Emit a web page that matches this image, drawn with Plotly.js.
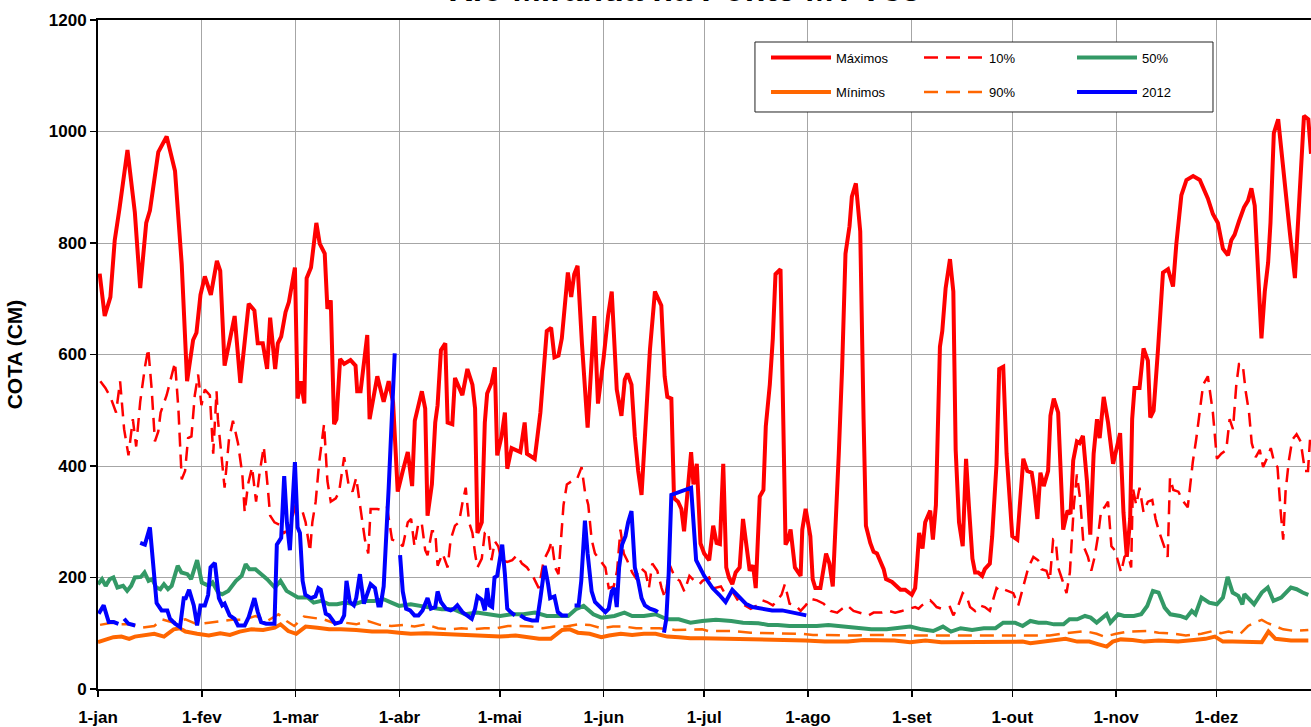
<!DOCTYPE html>
<html>
<head>
<meta charset="utf-8">
<script src="https://cdn.plot.ly/plotly-3.0.1.min.js"></script>
<style>
  html, body { margin: 0; padding: 0; background: #fff; }
  #chart { width: 1311px; height: 727px; }
</style>
</head>
<body>
<div id="chart"></div>
<script>
// Month labels (x axis is day of year, 0 = 1-jan)
const monthStarts = [0, 31, 59, 90, 120, 151, 181, 212, 243, 273, 304, 334];
const monthLabels = ['1-jan', '1-fev', '1-mar', '1-abr', '1-mai', '1-jun', '1-jul', '1-ago', '1-set', '1-out', '1-nov', '1-dez'];

// Máximos (cm)
const maxDays = [0.5,2,3.7,5,6.4,8.8,11,12.6,14.4,15.5,18,20.5,23,25,26.6,28.4,29.4,30.6,31.9,33.7,35.5,36.5,37.8,40.8,42.5,45,46.7,47.7,49.2,50.5,51.4,52.9,53.7,54.7,56,57,58.8,59.6,60.6,61.6,62.3,63.6,65.2,66.2,67.7,68.5,69.5,70.5,71.2,72.3,73.5,75.4,76.9,77.4,78.4,80.4,81.1,83.4,85.3,86.8,88.1,89.5,91,92.5,93.8,94.6,96.7,97.7,98.4,99.7,100.7,101.4,102.4,103.7,104.4,105.8,106.6,108.8,110.3,111.8,112.6,113.3,114.6,115.5,116.2,117.5,118.5,119.2,120.5,121.5,122.2,123.5,126.1,127.4,128.1,130.4,132.1,134,135.3,136.3,137.5,138.5,140.3,141.3,142.2,143.2,144.5,146.2,148.2,149.3,151,152.3,153.4,154.9,156.3,157.3,158.1,159.3,160.3,161.3,162.3,163.3,164.8,166.3,168.2,169.2,170,171.2,172,173.2,174.2,175,177.1,177.8,178.8,179.9,181,182.5,183.7,184.7,185.7,186.7,187.6,188.4,189.4,190.4,191.6,192.6,193.4,194.6,195.6,196.4,197.6,198.7,199.4,200.6,201.5,202.3,203.8,204.5,205.3,206.1,206.8,208.1,209.8,210.3,211.3,212.7,213.4,214.2,215.7,217.4,218.4,219.4,220.2,221.2,222.2,223.2,224.4,225.1,226.3,227.6,228.6,229.3,230.6,231.6,232.6,234.6,235.3,237.1,239.6,241,243,244,244.5,245.2,246.2,247,248.5,249.3,250.2,251.4,252.1,253.1,254.4,255.4,256.1,257.1,258.2,259.2,260.1,261.1,261.9,262.8,264,264.8,266.3,267,268.3,269.1,270.3,271.3,273,274.5,276.3,277.5,278.8,279.5,280.5,281.4,282.4,283.7,284.4,285.4,286.7,287.4,288.2,289.5,290.4,291.2,292.3,293.1,294.1,295.3,296.3,297.3,298.3,299.1,300.3,301.6,303.1,304.3,305.2,306.2,307.2,308.2,308.8,309.5,311,312.2,313.5,314.2,315.2,316.5,318,319.5,321,322,323.5,325,327,329,330.2,331.4,332.9,334.4,335.9,337.4,338.4,339.4,340.7,342.2,343.4,344.4,345.4,346.4,347.4,348.4,349.4,350.1,351.1,352.4,353.7,354.4,355.9,357.4,358.4,359.4,360.1,361.4,362.2];
const maxVals = [745,669,703,805,861,967,855,719,836,858,963,991,929,762,552,626,639,707,740,707,768,750,580,669,549,691,679,620,620,574,666,574,620,632,676,694,756,521,552,512,737,756,836,799,781,682,697,475,484,592,583,590,580,534,534,635,484,561,515,552,515,354,391,425,364,481,534,503,311,367,478,509,608,620,478,475,558,527,574,546,503,280,299,478,530,549,577,419,453,496,395,432,425,478,422,413,496,642,648,595,598,629,747,703,744,759,620,469,669,512,595,669,713,537,490,555,566,546,453,391,348,453,608,713,688,561,524,521,342,336,323,283,425,367,404,261,243,231,293,262,260,404,218,200,188,209,218,305,262,212,222,181,345,357,471,546,629,744,753,484,259,268,286,218,203,286,323,274,197,181,181,243,225,184,280,422,577,781,830,883,907,821,484,293,262,246,243,215,197,192,178,178,169,181,218,280,252,299,320,268,330,614,642,719,771,713,429,299,256,413,323,234,209,209,203,215,225,274,404,574,578,422,274,268,413,391,388,361,305,388,364,391,490,521,496,379,286,320,314,410,444,441,454,373,277,422,484,450,524,478,404,435,459,317,237,305,484,540,540,611,589,487,499,608,747,753,722,799,886,913,920,913,895,880,852,836,790,778,805,815,839,864,876,898,867,731,629,713,765,836,997,1022,947,892,818,737,836,947,1028,1022,960];

// 10% (cm)
const p10Days = [0.7,2.2,3.7,5.4,6.6,7.8,9.1,10.4,11.4,12.6,14,15,16,17,18,18.7,20.5,21.7,23,24,25,26,26.9,27.9,28.9,29.9,30.9,31.9,33.4,34.4,35.4,35.8,36.8,37.8,39.1,40.3,41.8,43.1,43.8,44.8,46,47.2,48.2,49.5,50.7,51.4,52.7,54.7,55.6,57.1,59,61,62,63.3,64,65,66,67.5,68.5,69.5,71,72,73.5,74.8,76,77.1,78.4,79.7,80.7,81.4,83.4,85.3,86.3,87.8,89.3,90,91,92.5,93.5,94.5,95.7,96.7,97.7,98.4,99.7,100.7,101.4,102.9,104.4,105.3,106.6,107.8,108.8,109.8,110.8,111.8,112.6,113.3,114.6,115.5,116.5,117.5,118.5,119.5,120.5,122.2,123.7,125.1,126.6,128.1,129.8,131.6,133.1,134.6,135.5,136.5,137.5,138.2,139,140,141.5,143,144.4,145.4,146.4,147.4,148.4,149.9,151.5,152.5,154,155,156,157,158,159.5,160.5,162,163.5,164.5,165.5,167,168.3,169.3,170.8,172.3,173.7,175.1,176.6,178.1,179.6,180.5,182.5,184,186,187.4,189.4,191.4,193.4,194.9,196.9,198.4,199.8,201.5,202.8,204.1,205.1,206.5,208.3,209.8,211.3,212.7,214.7,216.7,218.7,220.7,222.2,223.7,225.6,227.1,228.6,230.1,231.6,234.1,236.1,238,240,242.5,244,245,246,247.5,248.5,249.5,250.4,251.9,254.4,255.4,256.9,258.2,259.4,260.4,261.9,263.3,264.8,266.3,267.6,268.3,269.8,270.8,273.3,274.8,276.3,277.8,279.3,280.7,281.7,283.2,284.2,285.2,286,286.7,287.7,289.2,290.2,290.7,291.4,292.3,293.3,294.3,295.6,296.6,297.6,298.6,299.6,300.6,301.6,302.6,303.6,304.5,305.5,306.5,307.5,308.5,309,310,311,312.2,313.5,314.8,315.8,316.8,318,319.4,320.1,321.1,322.6,324.1,325.4,326.9,327.9,328.9,330,331.4,332.9,334.1,335.4,336.9,337.9,338.9,339.9,340.7,341.8,342.7,343.7,344.5,345.7,346.9,347.9,349.2,350.2,351.2,352.2,353.2,353.9,354.6,355.6,356.6,357.9,359.1,360.4,361.3,361.9];
const p10Vals = [552,540,524,496,552,466,419,484,435,515,577,611,540,444,462,496,527,558,586,503,376,391,450,453,527,564,509,537,527,422,534,484,422,361,447,481,441,385,317,367,398,336,385,435,361,311,299,293,280,286,330,320,299,246,299,336,404,475,373,336,342,354,416,367,354,379,323,268,243,323,323,320,326,268,265,262,256,299,305,256,299,296,249,240,283,283,221,243,218,268,293,299,333,361,299,280,243,218,234,280,283,231,265,256,231,228,231,240,225,218,203,181,231,249,265,218,206,271,330,367,373,376,398,354,330,268,243,231,218,181,184,212,286,243,231,209,200,218,209,181,225,212,181,163,221,200,194,175,203,194,188,194,200,181,184,169,175,156,150,144,150,159,156,150,159,169,188,153,150,140,150,162,159,153,140,137,144,150,140,137,135,132,137,137,140,137,140,144,147,144,150,156,159,153,147,144,147,132,150,172,166,147,140,150,147,140,169,181,175,178,172,150,184,218,237,231,215,212,194,268,265,218,200,172,209,268,330,385,339,256,237,212,237,274,323,326,336,256,249,231,209,237,243,218,361,330,361,317,336,339,305,283,262,237,379,357,354,336,326,407,447,496,546,561,496,413,422,429,484,466,546,583,583,534,496,441,416,429,398,416,432,407,398,314,268,354,410,447,457,444,391,391,447];

// 50% (cm)
const p50Days = [0,1.2,2.3,3.5,4.6,5.8,7.5,8.7,9.9,11,12.8,13.9,15.1,16.2,17.4,18.6,19.7,20.9,22,23.8,24.9,26.7,27.8,29.6,31,33.1,34.2,35.9,37.1,38.9,41.2,42.9,44.1,45.2,47,48.7,50.5,52.8,54.5,56.3,58,59.7,62.6,64.4,66.7,69,71.4,73.7,76.6,79.5,82.4,85.3,87.6,89.9,93.4,95.7,99.2,102.7,106.1,109.6,113.1,116.6,120.1,123.6,127,130.5,134,137.5,140.4,142.7,145,147.9,150.3,154.2,157.2,159.5,163,166.5,169.9,173.4,176.9,180.4,184.5,189.1,192.6,197.2,200.1,203,206.5,211.2,214.6,218.1,221.6,226.2,230.9,235.5,239,242.5,246,249.4,252.3,254.7,257.6,261,264.5,268,270.3,273.8,276.1,278.4,280.8,283.1,285.4,288.3,290.1,292.4,294.7,296.4,298.2,300,301.2,302.3,304.6,306.4,309.3,311.5,313.3,315,316.7,318.5,320.2,323.1,324.9,326.6,327.7,329.5,331.8,334.1,335.9,337.3,338.8,340.5,341.7,342.3,345.2,347.5,349.3,351,353.3,356.2,357.9,359.7,361.4];
const p50Vals = [188,197,185,197,200,182,185,176,185,200,201,209,194,197,182,179,188,179,185,221,209,206,197,231,191,185,191,173,170,176,194,203,224,215,215,206,197,182,194,176,170,164,164,155,158,152,152,155,152,158,158,161,155,149,152,149,146,143,143,134,137,134,131,134,134,137,131,131,131,143,149,134,128,131,137,131,131,134,125,125,119,122,124,122,119,118,115,115,113,113,113,115,113,109,107,107,109,112,107,104,112,103,109,106,109,109,119,119,113,122,119,119,116,116,125,125,131,128,119,128,134,119,134,131,131,134,149,176,173,146,134,131,127,140,134,164,155,152,164,201,173,167,152,170,152,173,182,158,164,182,179,173,169];

// Mínimos (cm)
const minDays = [0,2.3,4.6,7,9.3,11,13.9,16.8,19.7,22.6,24.4,26.1,29.6,33.1,36.5,39.4,42.3,45.8,49.3,52.8,54.5,56.8,59.2,62,65.5,69,72.5,77.1,81.8,86.4,89.9,93.4,98,101.5,106.1,110.8,115.4,120.1,124.7,128.2,131.7,135.2,136.9,138.6,140.9,143.3,146.8,150.3,152.6,156.1,159.5,163,166.5,170,173.5,176.9,180.4,191.4,200.7,211.2,217,223.9,228.6,237.8,242.5,247.1,251.8,261,270.3,276.1,278.4,281.9,285.4,288.9,292.4,296,298.3,301.2,303,305.4,308.9,312.4,316.7,322.5,327.2,330.7,333.5,335.9,338.8,342.3,347.5,349.5,351.6,356.2,361.4];
const minVals = [84,88,93,94,90,94,96,99,94,107,109,103,99,96,100,97,103,107,106,110,116,104,99,112,110,107,107,106,103,103,101,99,100,99,99,97,96,94,96,93,90,90,99,106,107,101,99,93,96,99,97,99,99,94,93,91,91,90,88,87,85,85,88,87,84,87,84,84,84,85,82,85,87,90,85,85,81,76,85,89,88,85,87,85,88,90,94,85,85,84,84,103,90,87,87];

// 90% (cm)
const p90Days = [0.6,4.1,6.4,9.9,13.3,16.8,19.1,22.6,26.1,29.6,33.1,36.5,40,43.5,47,50.5,53.9,56.3,58.6,61.5,64.4,67.3,70.2,73.7,77.1,80.6,84.1,87.6,91.1,94.5,98,101.5,105,108.5,111.9,115.4,118.9,122.4,125.9,129.4,132.8,136.3,139.8,143.3,146.8,150.3,153.8,157.2,160.7,164.2,167.6,172.3,176.9,180.4,182.2,189.1,194.9,201.9,210,213.5,219.3,226.2,230.9,237.8,244.8,249.4,255.2,261,268,272.6,278.4,284.2,287.7,290,294.7,298.2,300.5,304,307.4,313.2,316.7,321.4,324.8,329.5,333,335.3,337.6,341.1,343.4,345.2,347.5,349.3,351.6,353.9,357.4,361.4];
const p90Vals = [115,119,116,116,110,113,125,119,125,116,119,122,124,124,131,122,134,122,113,130,128,125,119,119,116,122,115,113,115,112,116,109,107,109,107,109,109,113,113,112,109,112,112,116,115,109,112,112,109,109,109,106,107,107,104,104,101,100,99,97,96,96,97,96,96,96,96,96,96,96,96,96,99,101,104,99,94,99,103,104,101,99,96,99,104,100,103,99,113,119,124,118,113,107,104,106];

// 2012 (cm), null = sem leitura
const y2012Days = [0.2,1.7,3.2,4.7,6.1,6.9,7.8,9.1,11.1,11.8,12.6,14,15.5,16.7,17.5,19,20.7,21.5,23,24.5,25.6,26.2,27.2,28.6,29.6,30.6,31.9,32.9,33.6,34.9,36.1,37.1,37.8,39.3,40.8,41.8,43.8,45,46.7,47.7,48.7,50.2,52.7,53.4,54.7,55.6,56.4,57.3,58.1,58.8,59.6,60.3,61.1,61.9,63.6,64.9,65.8,66.5,68,69,70.8,72.5,73.5,74.2,75.2,76.4,77.1,78.2,79.4,80.4,81.4,82.7,83.7,84.4,85.3,86.8,87.8,88.6,89.4,90.2,91,92,93.2,94.5,95.7,96.9,98.4,99.4,100.7,101.4,102.4,103.9,105.3,106.3,107.3,108.8,110.3,111.6,112.6,113.3,114.6,115.5,116.2,116.9,117.7,118.4,119.2,119.9,120.7,121.5,122.2,123.2,124.5,125.3,126.1,127.6,129.6,131.1,132.1,133.4,134.4,135,136.3,137.3,138.5,140.3,141.3,142.3,143.5,144.3,145.4,146.2,147.4,148.4,149.9,151.5,152.5,153.4,154.2,154.9,155.6,156.5,157.5,158.3,159.3,160.3,161.3,162.3,163.3,164.8,166.3,167.2,168.1,169,169.7,170.4,171.2,177.1,178.6,181,183.5,185.5,187.4,189.4,191.4,193.4,195.4,198.4,201.3,204.3,207.3,209.8,211.5];
const y2012Vals = [135,150,120,120,117,null,126,117,114,null,262,259,290,212,154,141,141,126,117,111,163,163,178,150,114,150,150,169,218,226,163,150,153,132,126,114,114,129,163,138,120,117,117,259,271,382,299,249,330,407,290,280,194,169,163,166,181,178,135,132,117,120,132,194,156,150,163,206,153,172,188,181,150,150,184,361,484,602,null,240,175,144,141,132,132,141,163,144,147,175,156,144,141,144,150,138,132,126,144,166,160,141,181,150,147,200,203,231,259,206,144,138,132,null,132,126,123,123,163,221,188,163,166,138,132,132,null,150,150,194,302,243,175,156,147,138,144,175,181,147,218,259,274,299,319,218,194,163,150,144,141,138,null,101,126,206,348,361,231,203,181,169,156,178,166,153,147,144,141,141,138,135,132];

const font = 'Liberation Sans, Arial, sans-serif';

function lineTrace(name, x, y, color, width, dash, legend) {
  return {
    type: 'scatter', mode: 'lines', name: name, x: x, y: y,
    line: { color: color, width: width, dash: dash || 'solid' },
    connectgaps: false, legend: legend, hoverinfo: 'skip'
  };
}

const traces = [
  lineTrace('Máximos', maxDays, maxVals, '#ff0000', 4, null, 'legend'),
  lineTrace('10%', p10Days, p10Vals, '#ff0000', 2.5, '14px,8px', 'legend'),
  lineTrace('50%', p50Days, p50Vals, '#339966', 4, null, 'legend'),
  lineTrace('Mínimos', minDays, minVals, '#ff6600', 4, null, 'legend2'),
  lineTrace('90%', p90Days, p90Vals, '#ff6600', 2.5, '14px,8px', 'legend2'),
  lineTrace('2012', y2012Days, y2012Vals, '#0000ff', 4, null, 'legend2')
];

// legends sit inside the plot area (paper coords) so they do not push the margins
const legendBase = {
  orientation: 'h', xref: 'paper', yref: 'paper',
  x: 0.5507, xanchor: 'left', yanchor: 'middle',
  itemwidth: 60, entrywidth: 78, entrywidthmode: 'pixels',
  bgcolor: 'rgba(0,0,0,0)', borderwidth: 0,
  font: { family: font, size: 13, color: '#000' }
};

const layout = {
  width: 1311, height: 727,
  margin: { l: 98, r: 0, t: 20, b: 38, autoexpand: false },
  paper_bgcolor: '#fff', plot_bgcolor: '#fff',
  font: { family: font, color: '#000' },
  title: {
    text: 'Rio Miranda na Ponte MT-738',
    font: { family: font, size: 34, weight: 'bold', color: '#000' },
    xref: 'container', x: 0.522, xanchor: 'center',
    yref: 'container', y: 0.9985, yanchor: 'bottom'
  },
  showlegend: true,
  legend: Object.assign({}, legendBase, { y: 0.9437 }),
  legend2: Object.assign({}, legendBase, { y: 0.8924 }),
  xaxis: {
    range: [0, 362.2], tickmode: 'array', tickvals: monthStarts, ticktext: monthLabels,
    showgrid: true, gridcolor: '#a6a6a6', gridwidth: 1,
    showline: true, linecolor: '#000', linewidth: 2, mirror: true,
    ticks: 'outside', ticklen: 6, tickcolor: '#000', tickwidth: 1.5,
    ticklabelstandoff: 6,
    tickfont: { family: font, size: 17, weight: 'bold', color: '#000' },
    zeroline: false, fixedrange: true
  },
  yaxis: {
    range: [0, 1200], tickmode: 'linear', tick0: 0, dtick: 200,
    showgrid: true, gridcolor: '#a6a6a6', gridwidth: 1,
    showline: true, linecolor: '#000', linewidth: 2,
    ticks: 'outside', ticklen: 6, tickcolor: '#000', tickwidth: 1.5,
    tickfont: { family: font, size: 17, weight: 'bold', color: '#000' },
    title: { text: 'COTA (CM)', standoff: 20, font: { family: font, size: 21, weight: 'bold', color: '#000' } },
    zeroline: false, fixedrange: true
  },
  shapes: [{
    type: 'rect', xref: 'paper', yref: 'paper', layer: 'above',
    x0: 0.5416, x1: 0.9192, y0: 0.8625, y1: 0.9671,
    fillcolor: '#fff', line: { color: '#222', width: 1 }
  }]
};

Plotly.newPlot('chart', traces, layout, { displayModeBar: false, staticPlot: true });
</script>
</body>
</html>
